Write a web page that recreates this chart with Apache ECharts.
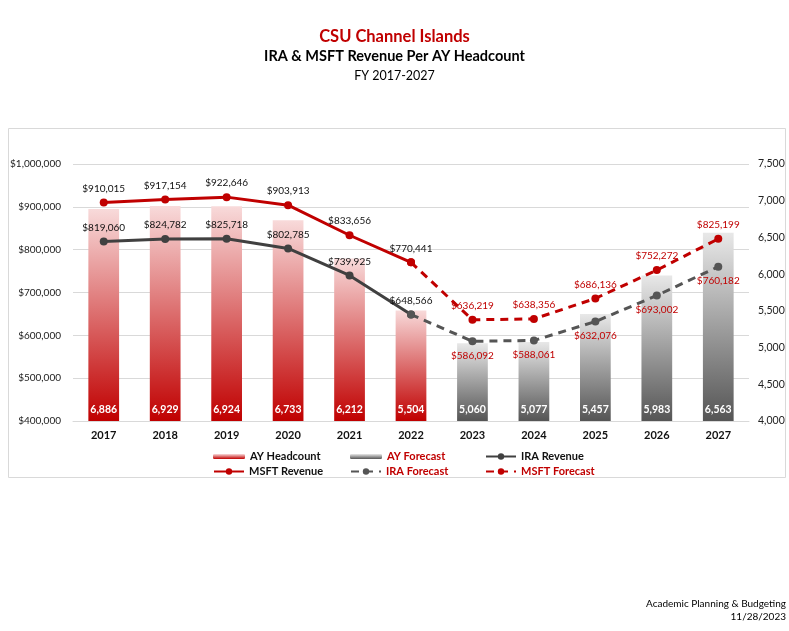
<!DOCTYPE html>
<html>
<head>
<meta charset="utf-8">
<script src="https://cdn.jsdelivr.net/npm/echarts@6/dist/echarts.min.js"></script>
<style>
  html, body { margin: 0; padding: 0; background: #fff; }
  #main { width: 789px; height: 631px; }
</style>
</head>
<body>
<div id="main"></div>
<script>
const years = ["2017", "2018", "2019", "2020", "2021", "2022", "2023", "2024", "2025", "2026", "2027"];
const headcount = [6886, 6929, 6924, 6733, 6212, 5504, "-", "-", "-", "-", "-"];
const headcountForecast = ["-", "-", "-", "-", "-", "-", 5060, 5077, 5457, 5983, 6563];
const msftRevenue = [910015, 917154, 922646, 903913, 833656, 770441, "-", "-", "-", "-", "-"];
const msftForecast = ["-", "-", "-", "-", "-", 770441, 636219, 638356, 686136, 752272, 825199];
const iraRevenue = [819060, 824782, 825718, 802785, 739925, 648566, "-", "-", "-", "-", "-"];
const iraForecast = ["-", "-", "-", "-", "-", 648566, 586092, 588061, 632076, 693002, 760182];

const FONT = "Lato, 'Liberation Sans', sans-serif";
const RED = "#c00000";
const GREY = "#404040";

const money = (v) => "$" + Math.round(v).toLocaleString("en-US");
const count = (v) => Math.round(v).toLocaleString("en-US");

function gradient(top, bottom) {
  return new echarts.graphic.LinearGradient(0, 0, 0, 1, [
    { offset: 0, color: top },
    { offset: 1, color: bottom }
  ]);
}

// forecast lines share the 2022 point, so hide that label
function forecastLabel(p) {
  return p.dataIndex === 5 ? "" : money(p.value);
}

function legendAt(name, left, top, color) {
  return {
    data: [{ name: name, textStyle: { color: color } }],
    left: left,
    top: top,
    itemWidth: 30,
    itemHeight: 8,
    itemGap: 4,
    padding: 0,
    textStyle: { fontFamily: FONT, fontSize: 11, fontWeight: "bold", color: "#111" }
  };
}

const options = {
  animation: false,
  textStyle: { fontFamily: FONT },
  title: [
    { text: "CSU Channel Islands", left: "center", top: 23,
      textStyle: { fontFamily: FONT, fontSize: 16.5, fontWeight: "bold", color: RED } },
    { text: "IRA & MSFT Revenue Per AY Headcount", left: "center", top: 44,
      textStyle: { fontFamily: FONT, fontSize: 14.5, fontWeight: "bold", color: "#000" } },
    { text: "FY 2017-2027", left: "center", top: 64,
      textStyle: { fontFamily: FONT, fontSize: 12.5, fontWeight: "normal", color: "#000" } }
  ],
  graphic: [
    { type: "rect", shape: { x: 8.5, y: 128.5, width: 777, height: 349 },
      style: { fill: "none", stroke: "#d9d9d9", lineWidth: 1 }, z: -1 },
    { type: "text", x: 786, y: 597,
      style: { text: "Academic Planning & Budgeting\n11/28/2023", align: "right",
        fontFamily: FONT, fontSize: 10, lineHeight: 13, fill: "#000" } }
  ],
  legend: [
    Object.assign(legendAt("AY Headcount", 213, 451, "#111"), { itemWidth: 32, itemHeight: 5 }),
    Object.assign(legendAt("AY Forecast", 350, 451, RED), { itemWidth: 32, itemHeight: 5 }),
    legendAt("IRA Revenue", 485, 451, "#111"),
    legendAt("MSFT Revenue", 213, 466, "#111"),
    legendAt("IRA Forecast", 350, 466, RED),
    legendAt("MSFT Forecast", 485, 466, RED)
  ],
  grid: { left: 73, right: 40, top: 164, bottom: 210, outerBoundsMode: "none" },
  xAxis: {
    type: "category",
    data: years,
    axisTick: { show: false },
    axisLine: { lineStyle: { color: "#d9d9d9" } },
    axisLabel: { fontFamily: FONT, fontSize: 11, fontWeight: "bold", color: "#111", margin: 9 }
  },
  yAxis: [
    {
      type: "value",
      min: 400000, max: 1000000, interval: 100000,
      axisLine: { show: false },
      axisTick: { show: false },
      splitLine: { lineStyle: { color: "#d9d9d9" } },
      axisLabel: { fontFamily: FONT, fontSize: 10, color: "#222", margin: 12, formatter: money }
    },
    {
      type: "value",
      min: 4000, max: 7500, interval: 500,
      axisLine: { show: false },
      axisTick: { show: false },
      splitLine: { show: false },
      axisLabel: { fontFamily: FONT, fontSize: 10.5, color: "#222", margin: 9, formatter: count }
    }
  ],
  series: [
    {
      name: "AY Headcount", type: "bar", yAxisIndex: 1, data: headcount,
      barWidth: "50%", barGap: "-100%",
      itemStyle: { color: gradient("#f8dada", "#c00000") },
      label: { show: true, position: "insideBottom", distance: 6, color: "#fff",
        fontFamily: FONT, fontSize: 10.5, fontWeight: "bold", formatter: (p) => count(p.value) }
    },
    {
      name: "AY Forecast", type: "bar", yAxisIndex: 1, data: headcountForecast,
      barWidth: "50%", barGap: "-100%",
      itemStyle: { color: gradient("#e8e8e8", "#555555") },
      label: { show: true, position: "insideBottom", distance: 6, color: "#fff",
        fontFamily: FONT, fontSize: 10.5, fontWeight: "bold", formatter: (p) => count(p.value) }
    },
    {
      name: "IRA Revenue", type: "line", data: iraRevenue, z: 3,
      symbol: "circle", symbolSize: 8,
      lineStyle: { color: GREY, width: 3 }, itemStyle: { color: GREY },
      label: { show: true, position: "top", distance: 5, color: "#111",
        fontFamily: FONT, fontSize: 10, formatter: (p) => money(p.value) }
    },
    {
      name: "MSFT Revenue", type: "line", data: msftRevenue, z: 3,
      symbol: "circle", symbolSize: 8,
      lineStyle: { color: RED, width: 3 }, itemStyle: { color: RED },
      label: { show: true, position: "top", distance: 5, color: "#111",
        fontFamily: FONT, fontSize: 10, formatter: (p) => money(p.value) }
    },
    {
      name: "IRA Forecast", type: "line", data: iraForecast, z: 3,
      symbol: "circle", symbolSize: 8,
      lineStyle: { color: "#555555", width: 3, type: [8, 6] }, itemStyle: { color: "#555555" },
      label: { show: true, position: "bottom", distance: 5, color: RED,
        fontFamily: FONT, fontSize: 10, formatter: forecastLabel }
    },
    {
      name: "MSFT Forecast", type: "line", data: msftForecast, z: 3,
      symbol: "circle", symbolSize: 8,
      lineStyle: { color: RED, width: 3, type: [8, 6] }, itemStyle: { color: RED },
      label: { show: true, position: "top", distance: 5, color: RED,
        fontFamily: FONT, fontSize: 10, formatter: forecastLabel }
    }
  ]
};

var myChart = echarts.init(document.getElementById("main"));
myChart.setOption(options);
window.onresize = function() {
  myChart.resize();
};
</script>
</body>
</html>
